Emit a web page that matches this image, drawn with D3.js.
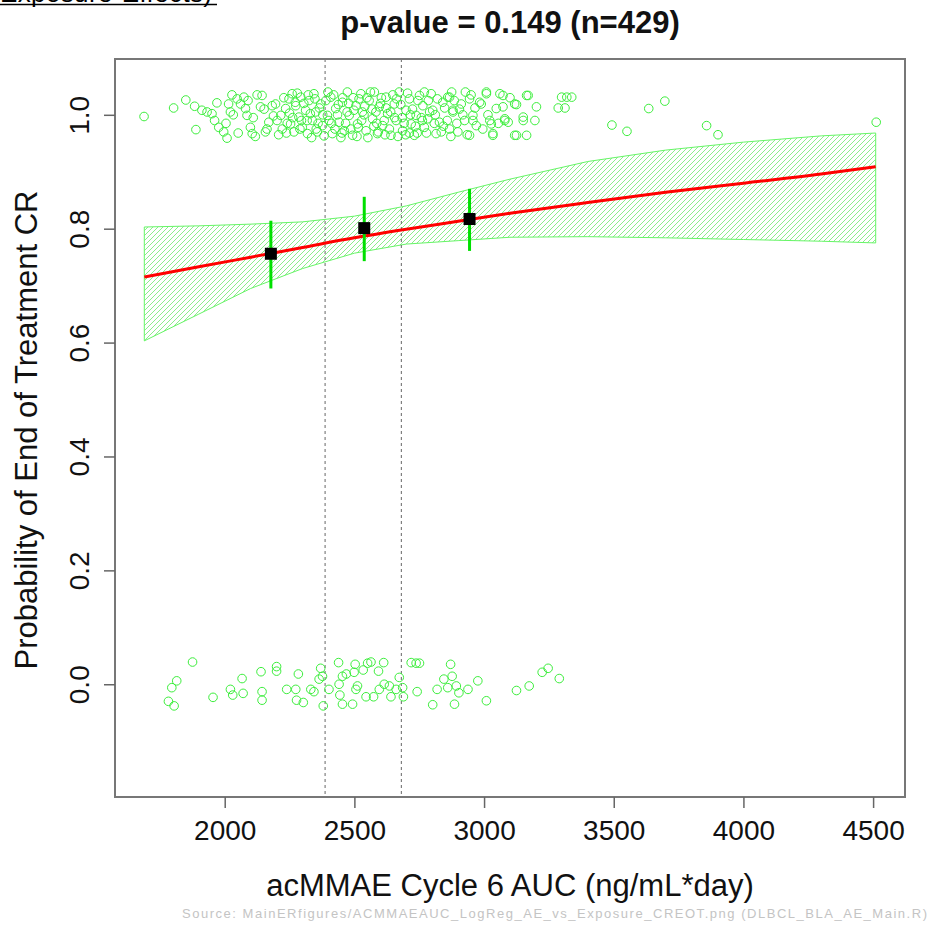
<!DOCTYPE html>
<html>
<head>
<meta charset="utf-8">
<script src="https://cdn.jsdelivr.net/npm/d3@7.9.0/dist/d3.min.js"></script>
<style>
  html, body { margin: 0; padding: 0; background: #fff; }
  svg { display: block; font-family: "Liberation Sans", Arial, sans-serif; }
</style>
</head>
<body>
<div id="chart"></div>
<script>
// x tick values and y tick values
const xTicks = [2000, 2500, 3000, 3500, 4000, 4500];
const yTicks = [0.0, 0.2, 0.4, 0.6, 0.8, 1.0];

// tertile cut points (dashed lines)
const cutPoints = [2387, 2681];

// fitted logistic curve
const fitX = [1690, 1900, 2100, 2300, 2500, 2700, 2900, 3100, 3400, 3700, 4000, 4300, 4510];
const fitY = [0.715, 0.733, 0.750, 0.767, 0.784, 0.799, 0.813, 0.827, 0.846, 0.864, 0.880, 0.896, 0.909];
// 95% band
const bandLo = [0.603, 0.650, 0.695, 0.730, 0.757, 0.773, 0.779, 0.785, 0.786, 0.784, 0.781, 0.778, 0.775];
const bandHi = [0.803, 0.805, 0.808, 0.812, 0.822, 0.840, 0.864, 0.887, 0.918, 0.938, 0.952, 0.963, 0.968];

// observed proportion per tertile with CI
const binX = [2178, 2538, 2944];
const binP = [0.756, 0.801, 0.817];
const binLo = [0.695, 0.743, 0.761];
const binHi = [0.814, 0.856, 0.870];

// responders (jittered around 1)
const resp = [
  [1689,0.997],[1803,1.012],[1850,1.026],[1889,0.974],[1884,1.015],[1912,1.008],[1932,1.005],[1951,1.002],
  [1970,1.021],[1961,0.990],[1977,0.978],[1996,0.970],[2009,0.959],[2015,1.019],[2028,1.035],[2022,1.005],
  [2048,1.028],[2061,1.019],[2074,1.031],[2080,1.011],[2086,0.999],[2099,0.978],[2106,0.967],[2125,1.035],
  [2144,1.034],[2138,1.014],[2157,0.970],[2170,0.987],[2183,1.016],[2196,1.019],[2202,0.990],[2216,0.999],
  [2222,0.975],[2235,1.011],[2248,1.028],[2254,0.984],[2260,1.037],[2267,0.970],[2274,1.016],[2286,0.996],
  [2293,1.031],[2299,0.978],[2312,1.008],[2319,0.967],[2325,1.025],[2338,0.990],[2344,1.037],[2351,1.005],
  [2357,0.970],[2370,1.019],[2377,0.981],[2396,0.999],[2409,1.031],[2415,0.967],[2428,1.011],[2441,0.987],
  [2454,1.022],[2461,0.972],[2473,1.040],[2480,0.999],[2493,0.964],[2506,1.016],[2512,0.984],[2525,1.037],
  [2531,1.005],[2545,0.972],[2557,1.025],[2570,0.993],[2577,1.040],[2589,0.967],[2596,1.014],[2609,0.981],
  [2622,1.031],[2628,1.002],[2641,0.964],[2654,1.019],[2661,0.990],[2673,1.040],[2686,0.972],[2699,1.008],
  [2712,1.028],[2719,0.984],[2731,0.964],[2738,0.999],[2751,1.034],[2764,1.016],[2770,0.978],[2783,0.993],
  [2796,1.037],[2802,1.008],[2815,0.967],[2828,0.987],[2841,1.022],[2860,1.031],[2867,0.975],[2880,1.005],
  [2899,0.970],[2912,1.019],[2925,0.990],[2944,1.028],[2957,0.999],[2970,0.981],[2989,1.019],[3009,1.037],
  [3022,0.990],[3034,0.967],[3047,1.011],[3073,1.034],[3080,0.993],[3118,1.019],[3118,0.964],[3151,0.990],
  [3164,1.034],[2867,1.031],[2880,1.008],[2944,0.964],[2957,0.990],[2983,1.022],[3009,1.040],[3028,0.984],
  [3034,0.964],[3061,1.037],[3073,1.014],[3080,0.990],[3093,0.987],[3125,0.964],[3125,1.018],[3151,0.996],
  [3164,0.964],[3170,1.034],[3196,0.990],[3202,1.014],[3299,1.031],[3319,1.031],[3338,1.031],[3286,1.012],
  [3312,1.012],[3493,0.982],[3551,0.971],[3635,1.011],[3697,1.024],[3858,0.981],[3902,0.965],[4512,0.987],
  [2005,0.985],[2033,1.000],[2052,0.968],[2090,1.025],[2110,0.995],[2118,0.962],[2152,1.010],[2163,0.975],
  [2188,0.998],[2208,0.965],[2228,1.030],[2241,0.985],[2250,1.003],[2262,0.995],[2280,1.038],[2290,0.975],
  [2305,1.020],[2318,0.990],[2330,1.002],[2335,0.960],[2348,1.028],[2360,0.985],[2365,1.012],[2383,0.963],
  [2390,1.025],[2402,0.990],[2420,1.035],[2425,0.975],[2435,1.000],[2448,0.960],[2455,1.030],[2466,0.985],
  [2478,1.020],[2486,0.975],[2498,1.008],[2510,0.962],[2518,1.028],[2528,0.990],[2540,1.015],[2552,0.960],
  [2562,1.040],[2575,0.980],[2583,1.005],[2592,0.970],[2604,1.030],[2615,0.990],[2622,1.012],[2635,0.975],
  [2648,1.035],[2655,0.995],[2668,0.962],[2679,1.018],[2692,0.985],[2705,1.038],[2712,0.968],[2724,1.010],
  [2735,0.980],[2745,1.025],[2758,0.995],[2770,1.040],[2778,0.968],[2790,1.005],[2808,0.985],[2820,1.028],
  [2835,0.970],[2848,1.012],[2858,0.990],[2872,0.962],[2885,1.025],[2895,0.985],[2918,1.000],[2935,0.965],
  [2950,1.035],[2965,1.012],[2995,0.975],[3015,1.000],[3055,0.985],[3100,1.030],
  [2238,0.968],[2272,1.022],[2296,0.990],[2322,1.035],[2353,0.975],[2378,1.000],[2398,1.040],[2412,0.985],
  [2438,1.018],[2452,0.968],[2472,1.005],[2495,1.030],[2515,0.978],[2537,1.000],[2548,1.030],[2568,1.010],
  [2586,0.985],[2601,1.020],[2618,0.965],[2640,1.005],[2662,1.028],[2684,0.995],[2698,0.965],[2716,1.000],
  [2742,0.968],[2762,0.990],[2785,1.025],[2812,1.000],[2843,0.980],[2875,1.040],[2905,1.010],[2928,1.040]
];

// non-responders (jittered around 0)
const nonResp = [
  [1876,0.039],[1815,0.006],[1796,-0.006],[1783,-0.030],[1805,-0.038],[1955,-0.023],[2022,-0.009],[2031,-0.019],
  [2067,0.010],[2071,-0.016],[2140,0.022],[2200,0.031],[2200,0.023],[2144,-0.013],[2144,-0.028],[2239,-0.009],
  [2274,-0.009],[2284,0.018],[2277,-0.028],[2303,-0.032],[2332,-0.009],[2344,-0.013],[2370,0.028],[2364,0.009],
  [2377,0.014],[2380,-0.038],[2402,-0.009],[2439,0.038],[2454,0.014],[2469,0.018],[2441,0.000],[2444,-0.019],
  [2454,-0.035],[2493,-0.035],[2503,0.035],[2499,0.021],[2512,-0.003],[2506,-0.009],[2545,-0.022],[2534,0.025],
  [2551,0.037],[2564,0.039],[2574,-0.022],[2593,0.023],[2613,0.038],[2596,-0.009],[2615,0.000],[2635,-0.003],
  [2641,-0.022],[2661,-0.009],[2673,0.012],[2686,-0.006],[2689,-0.022],[2719,0.038],[2738,0.037],[2751,0.037],
  [2742,-0.013],[2802,-0.036],[2819,-0.009],[2845,0.009],[2860,-0.006],[2871,0.035],[2877,0.014],[2893,-0.003],
  [2903,-0.015],[2886,-0.035],[2938,-0.009],[2976,0.006],[3009,-0.029],[3125,-0.011],[3174,-0.003],[3224,0.021],
  [3247,0.028],[3290,0.010]
];

const W = 932, H = 925;
const plot = { left: 115, right: 905, top: 59, bottom: 797 };

const svg = d3.select("#chart").append("svg")
    .attr("width", W).attr("height", H);

const x = d3.scaleLinear().domain([1577, 4623]).range([plot.left, plot.right]);
const y = d3.scaleLinear().domain([-0.198, 1.098]).range([plot.bottom, plot.top]);

// hatch pattern for the band
const defs = svg.append("defs");
defs.append("pattern")
    .attr("id", "hatch")
    .attr("patternUnits", "userSpaceOnUse")
    .attr("width", 5).attr("height", 5)
  .append("path")
    .attr("d", "M-1,1 L1,-1 M0,5 L5,0 M4,6 L6,4")
    .attr("stroke", "#8ced8c")
    .attr("stroke-width", 1);

const clip = defs.append("clipPath").attr("id", "plotclip");
clip.append("rect")
    .attr("x", plot.left).attr("y", plot.top)
    .attr("width", plot.right - plot.left).attr("height", plot.bottom - plot.top);

// top-left caption, cut by the page edge
svg.append("text")
    .attr("x", 0).attr("y", 2)
    .attr("font-size", 26)
    .attr("fill", "#000")
    .attr("textLength", 212)
    .text("Exposure-Effects)");
svg.append("line")
    .attr("x1", 0).attr("x2", 217).attr("y1", 4.5).attr("y2", 4.5)
    .attr("stroke", "#000").attr("stroke-width", 1.5);

const g = svg.append("g").attr("clip-path", "url(#plotclip)");

// band
const bandData = fitX.map((d, i) => ({ x: d, lo: bandLo[i], hi: bandHi[i] }));
const area = d3.area()
    .x(d => x(d.x))
    .y0(d => y(d.lo))
    .y1(d => y(d.hi));
g.append("path")
    .datum(bandData)
    .attr("d", area)
    .attr("fill", "url(#hatch)")
    .attr("stroke", "#66f566")
    .attr("stroke-width", 1);

// dashed tertile lines
g.selectAll(".cut")
  .data(cutPoints)
  .join("line")
    .attr("x1", d => x(d)).attr("x2", d => x(d))
    .attr("y1", plot.top).attr("y2", plot.bottom)
    .attr("stroke", "#666")
    .attr("stroke-width", 1)
    .attr("stroke-dasharray", "3,3");

// scatter points
const allPts = resp.concat(nonResp);
g.selectAll(".pt")
  .data(allPts)
  .join("circle")
    .attr("cx", d => x(d[0]))
    .attr("cy", d => y(d[1]))
    .attr("r", 4.3)
    .attr("fill", "none")
    .attr("stroke", "#3cee3c")
    .attr("stroke-width", 1);

// fitted line
const fitData = fitX.map((d, i) => [d, fitY[i]]);
g.append("path")
    .datum(fitData)
    .attr("d", d3.line().x(d => x(d[0])).y(d => y(d[1])).curve(d3.curveMonotoneX))
    .attr("fill", "none")
    .attr("stroke", "#ff0000")
    .attr("stroke-width", 3);

// bin error bars + squares
g.selectAll(".eb")
  .data(binX)
  .join("line")
    .attr("x1", d => x(d)).attr("x2", d => x(d))
    .attr("y1", (d, i) => y(binLo[i])).attr("y2", (d, i) => y(binHi[i]))
    .attr("stroke", "#00e000")
    .attr("stroke-width", 3);
g.selectAll(".sq")
  .data(binX)
  .join("rect")
    .attr("x", d => x(d) - 6)
    .attr("y", (d, i) => y(binP[i]) - 6)
    .attr("width", 12).attr("height", 12)
    .attr("fill", "#000");

// plot box
svg.append("rect")
    .attr("x", plot.left).attr("y", plot.top)
    .attr("width", plot.right - plot.left).attr("height", plot.bottom - plot.top)
    .attr("fill", "none")
    .attr("stroke", "#777")
    .attr("stroke-width", 2);

// axes
const xAxis = svg.append("g")
    .attr("transform", `translate(0,${plot.bottom})`)
    .call(d3.axisBottom(x).tickValues(xTicks).tickSize(11).tickPadding(12).tickFormat(d3.format("d")));
const yAxis = svg.append("g")
    .attr("transform", `translate(${plot.left},0)`)
    .call(d3.axisLeft(y).tickValues(yTicks).tickSize(11).tickFormat(d3.format(".1f")));

[xAxis, yAxis].forEach(a => {
  a.select(".domain").remove();
  a.selectAll("line").attr("stroke", "#666").attr("stroke-width", 1.5);
  a.selectAll("text").attr("font-size", 28).attr("fill", "#111")
    .attr("font-family", "'Liberation Sans', Arial, sans-serif");
});
yAxis.selectAll(".tick text")
    .attr("x", null).attr("dy", null)
    .attr("text-anchor", "middle")
    .attr("transform", "translate(-36,0) rotate(-90) translate(0,10)");

// title
svg.append("text")
    .attr("x", 510).attr("y", 33)
    .attr("text-anchor", "middle")
    .attr("font-size", 31).attr("font-weight", "bold")
    .attr("fill", "#111")
    .text("p-value = 0.149 (n=429)");

// axis labels
svg.append("text")
    .attr("x", 510).attr("y", 896)
    .attr("text-anchor", "middle")
    .attr("font-size", 31).attr("fill", "#111")
    .text("acMMAE Cycle 6 AUC (ng/mL*day)");
svg.append("text")
    .attr("transform", `translate(37,${(plot.top + plot.bottom) / 2 + 2}) rotate(-90)`)
    .attr("text-anchor", "middle")
    .attr("font-size", 31).attr("fill", "#111")
    .text("Probability of End of Treatment CR");

// source note
svg.append("text")
    .attr("x", 182).attr("y", 918)
    .attr("font-size", 13).attr("fill", "#c4c4c4")
    .attr("textLength", 745)
    .text("Source: MainERfigures/ACMMAEAUC_LogReg_AE_vs_Exposure_CREOT.png (DLBCL_BLA_AE_Main.R)");
</script>
</body>
</html>
